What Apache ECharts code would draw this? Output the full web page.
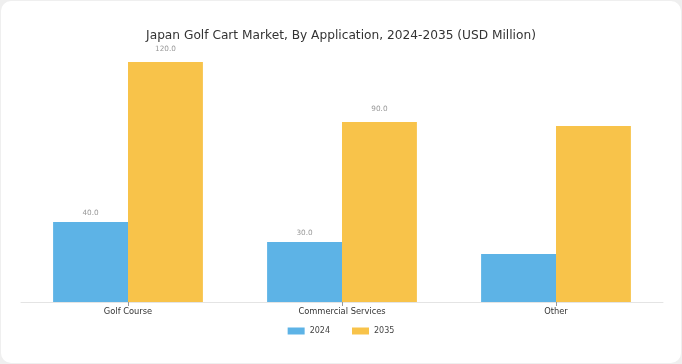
<!DOCTYPE html>
<html><head><meta charset="utf-8">
<script src="https://cdn.jsdelivr.net/npm/echarts@6/dist/echarts.min.js"></script>
<style>
html,body{margin:0;padding:0;background:#efefef;width:682px;height:364px;overflow:hidden}
#card{position:absolute;left:1px;top:1px;width:680px;height:362px;background:#fff;border-radius:10px}
#c{width:682px;height:364px;position:absolute;left:0;top:0}
</style></head><body>
<div id="card"></div>
<div id="c"></div>
<script>
const categories = ["Golf Course", "Commercial Services", "Other"];
const values2024 = [40, 30, 24];
const values2035 = [120, 90, 88];
const showLabel = [true, true, false];
const seriesNames = ["2024", "2035"];

const chart = echarts.init(document.getElementById('c'));
function mk(vals){
  return vals.map((v,i)=>({value:v, label:{show:showLabel[i]}}));
}
const font = 'DejaVu Sans';
chart.setOption({
  animation:false,
  title:{text:'Japan Golf Cart Market, By Application, 2024-2035 (USD Million)', left:'center', top:25,
    textStyle:{fontFamily:font,fontSize:12.2,fontWeight:'normal',color:'#333'}},
  legend:{data:seriesNames, bottom:24, left:'center', itemWidth:17, itemHeight:7, itemGap:22, itemStyle:{borderWidth:0},
    icon:'rect', textStyle:{fontFamily:font,fontSize:8,color:'#444'}},
  grid:{left:21, right:19, top:42, bottom:62},
  xAxis:{type:'category', data:categories,
    axisLine:{lineStyle:{color:'#e4e4e4'}},
    axisTick:{show:true, alignWithLabel:true, length:4, lineStyle:{color:'#999'}, interval:0},
    axisLabel:{fontFamily:font,fontSize:8.3,color:'#333',margin:6}},
  yAxis:{type:'value', min:0, max:130, show:false, splitLine:{show:false}},
  series:[
    {name:seriesNames[0], type:'bar', data:mk(values2024), barGap:'0%', barCategoryGap:'30%',
     itemStyle:{color:'#5db3e6'},
     label:{position:'top', fontFamily:font, fontSize:7.3, color:'#999', distance:5, formatter:p=>p.value.toFixed(1)}},
    {name:seriesNames[1], type:'bar', data:mk(values2035), barGap:'0%', barCategoryGap:'30%',
     itemStyle:{color:'#f8c34a'},
     label:{position:'top', fontFamily:font, fontSize:7.3, color:'#999', distance:9, formatter:p=>p.value.toFixed(1)}}
  ]
});
</script>
</body></html>
